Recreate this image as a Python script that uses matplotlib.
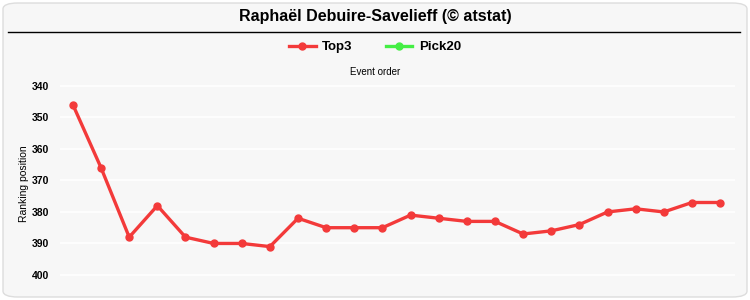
from matplotlib import pyplot as plt
from matplotlib.patches import FancyBboxPatch
from matplotlib.lines import Line2D

# event order and ranking positions (Top3 series)
events = list(range(1, 25))
top3 = [346, 366, 388, 378, 388, 390, 390, 391, 382, 385, 385, 385,
        381, 382, 383, 383, 387, 386, 384, 380, 379, 380, 377, 377]
yticks = [340, 350, 360, 370, 380, 390, 400]

red = '#f33a3a'
green = '#44ee44'

fig = plt.figure(figsize=(7.5, 3), dpi=100)
fig.patch.set_facecolor('white')
bg = FancyBboxPatch((0.004, 0.01), 0.992, 0.98, boxstyle='round,pad=0,rounding_size=0.02',
                    transform=fig.transFigure, facecolor='#f7f7f7', edgecolor='#dddddd',
                    linewidth=1, zorder=-10)
fig.patches.append(bg)

fig.text(0.5, 0.945, 'Raphaël Debuire-Savelieff (© atstat)', ha='center', va='center',
         fontsize=11.5, fontweight='bold', family='Liberation Sans')
fig.add_artist(Line2D([0.011, 0.987], [0.893, 0.893], color='black', linewidth=1,
                      transform=fig.transFigure))

ax = fig.add_axes([0.08, 0.031, 0.9, 0.714])
ax.set_facecolor('none')
ax.plot(events, top3, color=red, linewidth=2.4, marker='o', markersize=5, label='Top3')
ax.plot([], [], color=green, linewidth=2.4, marker='o', markersize=5, label='Pick20')

ax.set_ylim(405, 337)
ax.set_xlim(0.54, 24.53)
ax.set_yticks(yticks)
ax.set_yticklabels([str(t) for t in yticks], fontsize=7.5, fontweight='bold',
                   family='Liberation Sans')
ax.set_xticks([])
ax.tick_params(axis='y', length=0, pad=8)
ax.grid(axis='y', color='white', linewidth=1.2)
ax.set_axisbelow(True)
for s in ax.spines.values():
    s.set_visible(False)
ax.set_ylabel('Ranking position', fontsize=7.5, family='Liberation Sans', labelpad=2)

fig.text(0.5, 0.76, 'Event order', ha='center', va='center', fontsize=7,
         family='Liberation Sans')
leg = fig.legend(loc='center', bbox_to_anchor=(0.5, 0.843), ncol=2, frameon=False,
                 prop={'family': 'Liberation Sans', 'weight': 'bold', 'size': 9.5},
                 handlelength=2.0, columnspacing=2.5, handletextpad=0.5)

fig.savefig('out.png', dpi=100, facecolor='white')
